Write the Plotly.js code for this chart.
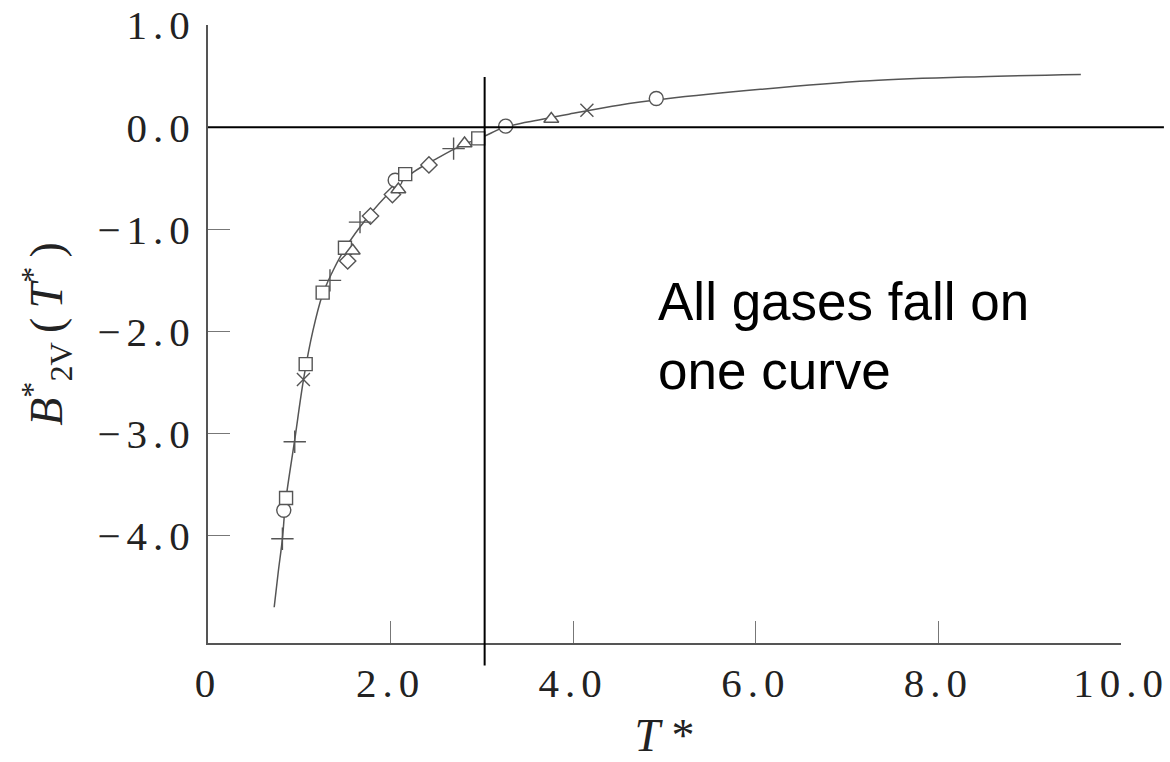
<!DOCTYPE html>
<html>
<head>
<meta charset="utf-8">
<script src="https://cdn.plot.ly/plotly-3.0.1.min.js"></script>
<style>
  html, body { margin: 0; padding: 0; background: #fff; }
  #chart { width: 1170px; height: 762px; }
  .xtick text, .ytick text { letter-spacing: 6px; }
</style>
</head>
<body>
<div id="chart"></div>
<script>
// ---- data ----
const curveT = [0.725, 0.77, 0.815, 0.85, 0.95, 1.05, 1.15, 1.25, 1.35, 1.5, 1.75, 2.0, 2.25, 2.5, 2.75, 3.0, 3.25, 3.5, 4.0, 4.5, 5.0, 6.05, 7.25, 8.46, 9.56];
const curveB = [-4.70, -4.35, -4.03, -3.67, -3.06, -2.45, -1.99, -1.65, -1.44, -1.19, -0.88, -0.63, -0.44, -0.31, -0.19, -0.10, 0.00, 0.05, 0.135, 0.215, 0.275, 0.37, 0.454, 0.494, 0.515];

const circleT = [0.83, 2.05, 3.26, 4.91];
const circleB = [-3.75, -0.52, 0.01, 0.28];
const squareT = [0.855, 1.07, 1.256, 1.50, 2.16, 2.96];
const squareB = [-3.63, -2.32, -1.62, -1.18, -0.46, -0.11];
const diamondT = [1.53, 1.78, 2.02, 2.42];
const diamondB = [-1.31, -0.87, -0.66, -0.37];
const triangleT = [1.585, 2.085, 2.81, 3.76];
const triangleB = [-1.21, -0.61, -0.16, 0.08];
const xMarkT = [1.045, 4.15];
const xMarkB = [-2.47, 0.165];
const plusT = [0.815, 0.95, 1.336, 1.665, 2.69];
const plusB = [-4.03, -3.08, -1.50, -0.93, -0.21];

const xTickVals = [0, 2, 4, 6, 8, 10];
const xTickText = ['0', '2.0', '4.0', '6.0', '8.0', '10.0'];
const yTickVals = [1, 0, -1, -2, -3, -4];
const yTickText = ['1.0', '0.0', '\u22121.0', '\u22122.0', '\u22123.0', '\u22124.0'];

const xRange = [0, 10];
const yRange = [-5.05, 1.0];
const vLineT = 3.03, vLineTop = 0.49, vLineBottom = -5.27;
const hLineB = 0, hLineEndT = 10.47;

// ---- helpers ----
const px = v => (v - xRange[0]) / (xRange[1] - xRange[0]);
const py = v => (v - yRange[0]) / (yRange[1] - yRange[0]);
const grey = '#555';

function markerTrace(x, y, symbol, size) {
  const open = symbol.indexOf('thin') >= 0;
  return {
    x: x, y: y, type: 'scatter', mode: 'markers', hoverinfo: 'skip',
    marker: {
      symbol: symbol, size: size,
      color: open ? grey : '#fff',
      line: { color: grey, width: 1.4 }
    }
  };
}

const data = [
  { x: curveT, y: curveB, type: 'scatter', mode: 'lines',
    line: { color: grey, width: 1.5, shape: 'spline', smoothing: 1 }, hoverinfo: 'skip' },
  markerTrace(circleT, circleB, 'circle', 14),
  markerTrace(squareT, squareB, 'square', 13),
  markerTrace(diamondT, diamondB, 'diamond', 12.5),
  markerTrace(triangleT, triangleB, 'triangle-up', 13),
  markerTrace(xMarkT, xMarkB, 'x-thin', 13),
  markerTrace(plusT, plusB, 'cross-thin', 16)
];

const tickFont = { family: 'Liberation Serif, Times New Roman, serif', size: 41, color: '#222' };

const layout = {
  width: 1170, height: 762,
  margin: { l: 208, r: 49, t: 25, b: 119 },
  paper_bgcolor: '#fff', plot_bgcolor: '#fff',
  showlegend: false,
  xaxis: {
    range: xRange, showgrid: false, zeroline: false,
    showline: true, linecolor: grey, linewidth: 2,
    ticks: 'inside', ticklen: 22, tickwidth: 1, tickcolor: '#777',
    tickmode: 'array', tickvals: xTickVals, ticktext: xTickText,
    tickfont: tickFont, ticklabelstandoff: 3,
    title: { text: '<i>T</i> *', font: { family: 'Liberation Serif, serif', size: 46, color: '#222' }, standoff: 14 }
  },
  yaxis: {
    range: yRange, showgrid: false, zeroline: false,
    showline: true, linecolor: grey, linewidth: 2,
    ticks: 'inside', ticklen: 22, tickwidth: 1, tickcolor: '#777',
    tickmode: 'array', tickvals: yTickVals, ticktext: yTickText,
    tickfont: tickFont, ticklabelstandoff: 2,
    title: { text: '<i>B</i><sup>*</sup><sub>2V</sub>\u2009(\u2009<i>T</i><sup>*</sup>\u2009)', font: { family: 'Liberation Serif, serif', size: 46, color: '#222' }, standoff: 20 }
  },
  shapes: [
    { type: 'line', xref: 'paper', yref: 'paper', x0: px(0), x1: px(hLineEndT), y0: py(hLineB), y1: py(hLineB),
      line: { color: '#000', width: 2 } },
    { type: 'line', xref: 'paper', yref: 'paper', x0: px(vLineT), x1: px(vLineT), y0: py(vLineBottom), y1: py(vLineTop),
      line: { color: '#000', width: 2 } }
  ],
  annotations: [
    { text: 'All gases fall on<br>one curve', xref: 'paper', yref: 'paper',
      x: px(4.91), y: py(-1.40), xanchor: 'left', yanchor: 'top', align: 'left', showarrow: false,
      font: { family: 'Liberation Sans, Arial, sans-serif', size: 53, color: '#000' } }
  ]
};

Plotly.newPlot('chart', data, layout, { staticPlot: true, displayModeBar: false });
</script>
</body>
</html>
